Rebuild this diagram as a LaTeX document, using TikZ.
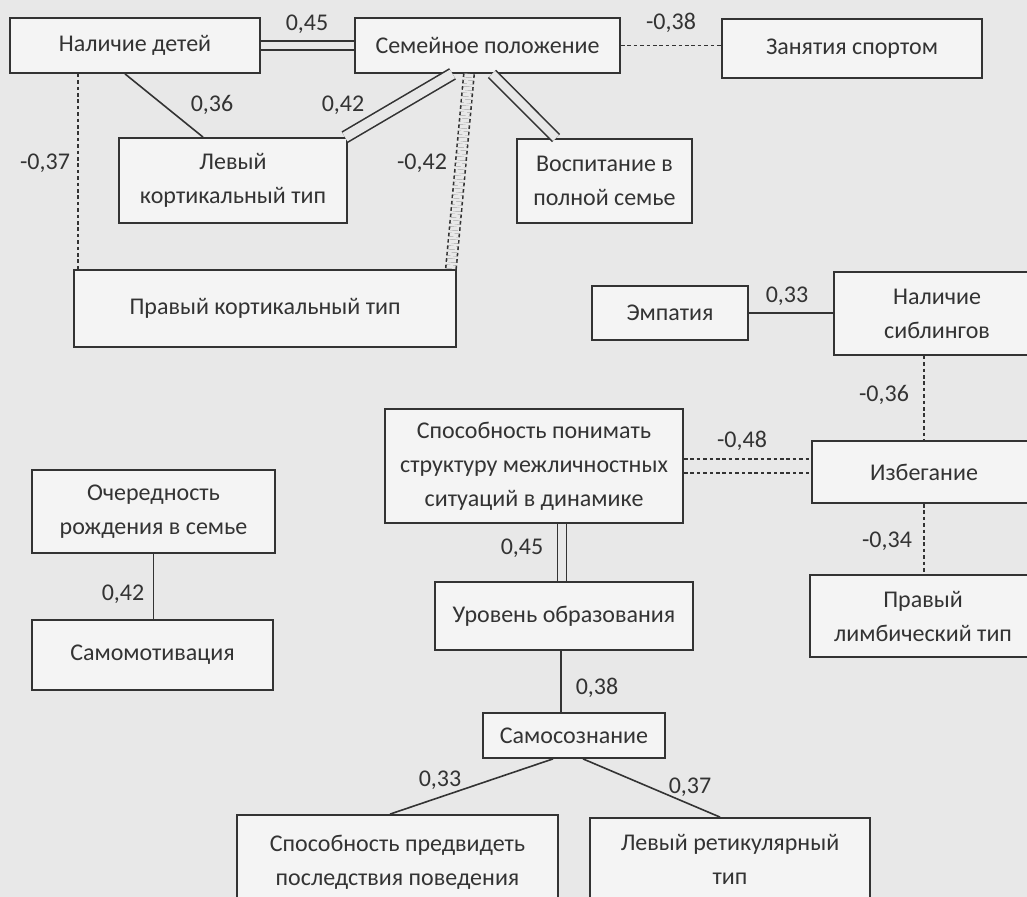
\documentclass[tikz,border=0pt]{standalone}
\usepackage{fontspec}
\setmainfont{Carlito}
\usetikzlibrary{calc}
\definecolor{scan}{gray}{0.91}
\definecolor{ink}{gray}{0.2}

\begin{document}
\begin{tikzpicture}[x=0.5pt, y=-0.5pt,
	box/.style={draw=ink, line width=0.9pt, fill=white!50!scan, inner sep=0pt, align=center, text=ink, font=\fontsize{12}{17}\selectfont},
	coef/.style={text=ink, font=\fontsize{12}{14}\selectfont},
	posline/.style={draw=ink, line width=0.8pt},
	negline/.style={posline, dash pattern=on 1.8pt off 1.4pt},
	twin/.style={double=scan, double distance=3.8pt}]
	\fill[scan] (0,0) rectangle (1027,897);
	\clip (0,0) rectangle (1027,897);
	\node[box, minimum width=125pt, minimum height=27.5pt] (kids) at (135,45.5) {Наличие детей};
	\node[box, minimum width=132.5pt, minimum height=27.5pt] (family) at (487.5,45.5) {Семейное положение};
	\node[box, minimum width=130pt, minimum height=29.5pt] (sport) at (852,48.5) {Занятия спортом};
	\node[box, minimum width=114pt, minimum height=42.5pt] (leftcort) at (233,180.5) {Левый\\кортикальный тип};
	\node[box, minimum width=87.5pt, minimum height=42pt] (upbring) at (604.5,181) {Воспитание в\\полной семье};
	\node[box, minimum width=191pt, minimum height=38.5pt] (rightcort) at (265,308.5) {Правый кортикальный тип};
	\node[box, minimum width=78pt, minimum height=27pt] (empathy) at (670,313) {Эмпатия};
	\node[box, minimum width=103pt, minimum height=41.5pt] (siblings) at (937,313.5) {Наличие\\сиблингов};
	\node[box, minimum width=149pt, minimum height=57pt] (understand) at (534,466) {Способность понимать\\структуру межличностных\\ситуаций в динамике};
	\node[box, minimum width=112pt, minimum height=31pt] (avoid) at (924,472) {Избегание};
	\node[box, minimum width=113pt, minimum height=41pt] (rightlimb) at (923,616) {Правый\\лимбический тип};
	\node[box, minimum width=121.5pt, minimum height=41.5pt] (birth) at (153.5,511.5) {Очередность\\рождения в семье};
	\node[box, minimum width=120.5pt, minimum height=35pt] (selfmot) at (152.5,655) {Самомотивация};
	\node[box, minimum width=129pt, minimum height=34pt] (educ) at (564,616) {Уровень образования};
	\node[box, minimum width=91pt, minimum height=22.5pt] (selfaw) at (574,735.5) {Самосознание};
	\node[box, minimum width=160.5pt, minimum height=47.5pt] (foresee) at (397.5,862.5) {Способность предвидеть\\последствия поведения};
	\node[box, minimum width=140pt, minimum height=41pt] (retic) at (730,859) {Левый ретикулярный\\тип};

	\draw[posline, twin] (kids) -- (family);
	\node[coef] (c1) at (307,24) {0,45};
	\draw[negline] (family.east) -- (family.east -| sport.west);
	\node[coef] (c2) at (671,23) {-0,38};
	\draw[posline] ($(kids.south)+(-10,0)$) -- ($(leftcort.north)+(-30,0)$);
	\node[coef] (c3) at (212,105) {0,36};
	\draw[posline, twin, double distance=5pt] ($(family.south)+(-35,0)$) -- ($(leftcort.north east)+(-3,0)$);
	\node[coef] (c4) at (343,105) {0,42};
	\draw[posline, twin, double distance=4.2pt] ($(family.south)+(4.5,0)$) -- ($(upbring.north west)+(40,0)$);
	\draw[negline] ($(kids.south west)+(69,0)$) coordinate (k) -- (k |- rightcort.north);
	\node[coef] (c5) at (45,163) {-0,37};
	\draw[negline, twin, double distance=4.4pt] ($(family.south)+(-18.5,0)$) -- ($(rightcort.north east)+(-6,0)$);
	\node[coef] (c6) at (422,163) {-0,42};
	\draw[posline] (empathy) -- (empathy -| siblings.west);
	\node[coef] (c7) at (787,296) {0,33};
	\draw[negline] (avoid.north |- siblings.south) -- (avoid.north);
	\node[coef] (c8) at (884,395) {-0,36};
	\draw[negline, twin, double distance=6pt] (understand) -- (understand -| avoid.west);
	\node[coef] (c9) at (742,441) {-0,48};
	\draw[negline] (avoid.south) -- (avoid.south |- rightlimb.north);
	\node[coef] (c10) at (887,541) {-0,34};
	\draw[posline] (birth.south) -- (birth.south |- selfmot.north);
	\node[coef] (c11) at (123,594) {0,42};
	\draw[posline, twin] ($(understand.south)+(28,0)$) coordinate (u) -- (u |- educ.north);
	\node[coef] (c12) at (522,548) {0,45};
	\draw[posline] ($(educ.south)+(-3,0)$) coordinate (e) -- (e |- selfaw.north);
	\node[coef] (c13) at (597,688) {0,38};
	\draw[posline] ($(selfaw.south)+(-21,0)$) -- ($(foresee.north)+(-7.5,0)$);
	\node[coef] (c14) at (440,780) {0,33};
	\draw[posline] ($(selfaw.south)+(9,0)$) -- ($(retic.north)+(-10,0)$);
	\node[coef] (c15) at (690,787) {0,37};
\end{tikzpicture}
\end{document}
